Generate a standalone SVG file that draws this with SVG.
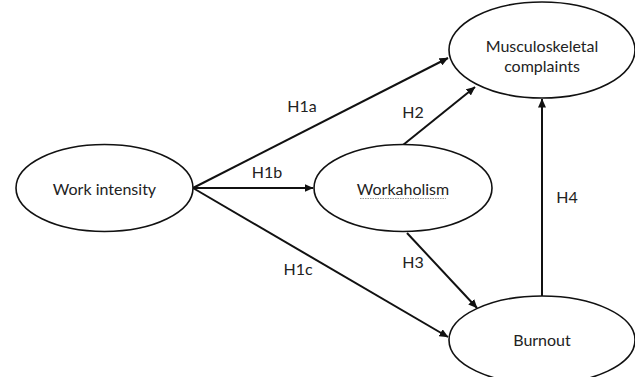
<svg xmlns="http://www.w3.org/2000/svg" width="635" height="377" viewBox="0 0 635 377">
<style>
.node ellipse{fill:#fff;stroke:#111;stroke-width:1.6}
text{font-family:Lato,"Liberation Sans",sans-serif;font-size:16px;fill:#222;text-anchor:middle}
.edge line{stroke:#111;stroke-width:2}
</style>
<defs>
<marker id="ah" markerWidth="9" markerHeight="8" refX="8.5" refY="4" orient="auto" markerUnits="userSpaceOnUse">
<path d="M0,0 L9,4 L0,8 Z" fill="#111"/>
</marker>
</defs>
<rect width="635" height="377" fill="#fff"/>
<g class="edges">
<g class="edge"><line x1="193" y1="188" x2="448" y2="58" marker-end="url(#ah)"/></g>
<g class="edge"><line x1="193" y1="188" x2="313" y2="188" marker-end="url(#ah)"/></g>
<g class="edge"><line x1="193" y1="188" x2="448" y2="337" marker-end="url(#ah)"/></g>
<g class="edge"><line x1="403" y1="145" x2="475" y2="87" marker-end="url(#ah)"/></g>
<g class="edge"><line x1="407" y1="233" x2="477" y2="308" marker-end="url(#ah)"/></g>
<g class="edge"><line x1="542" y1="296" x2="542" y2="99" marker-end="url(#ah)"/></g>
<text x="302" y="112">H1a</text>
<text x="413" y="118">H2</text>
<text x="267" y="178">H1b</text>
<text x="298" y="275">H1c</text>
<text x="413" y="268">H3</text>
<text x="567" y="203">H4</text>
</g>
<g id="work-intensity" class="node"><ellipse cx="104.5" cy="188" rx="88.5" ry="43.5"/><text x="104.5" y="195">Work intensity</text></g>
<g id="workaholism" class="node"><ellipse cx="403" cy="188" rx="89" ry="43.5"/><text x="403" y="195">Workaholism</text><line x1="360" y1="198.5" x2="446" y2="198.5" stroke="#999" stroke-width="1" stroke-dasharray="1.5,1"/></g>
<g id="musculoskeletal" class="node"><ellipse cx="542" cy="50" rx="93" ry="48"/><text x="542" y="52">Musculoskeletal</text><text x="542" y="72">complaints</text></g>
<g id="burnout" class="node"><ellipse cx="542" cy="340" rx="93" ry="44"/><text x="542" y="346">Burnout</text></g>
</svg>
